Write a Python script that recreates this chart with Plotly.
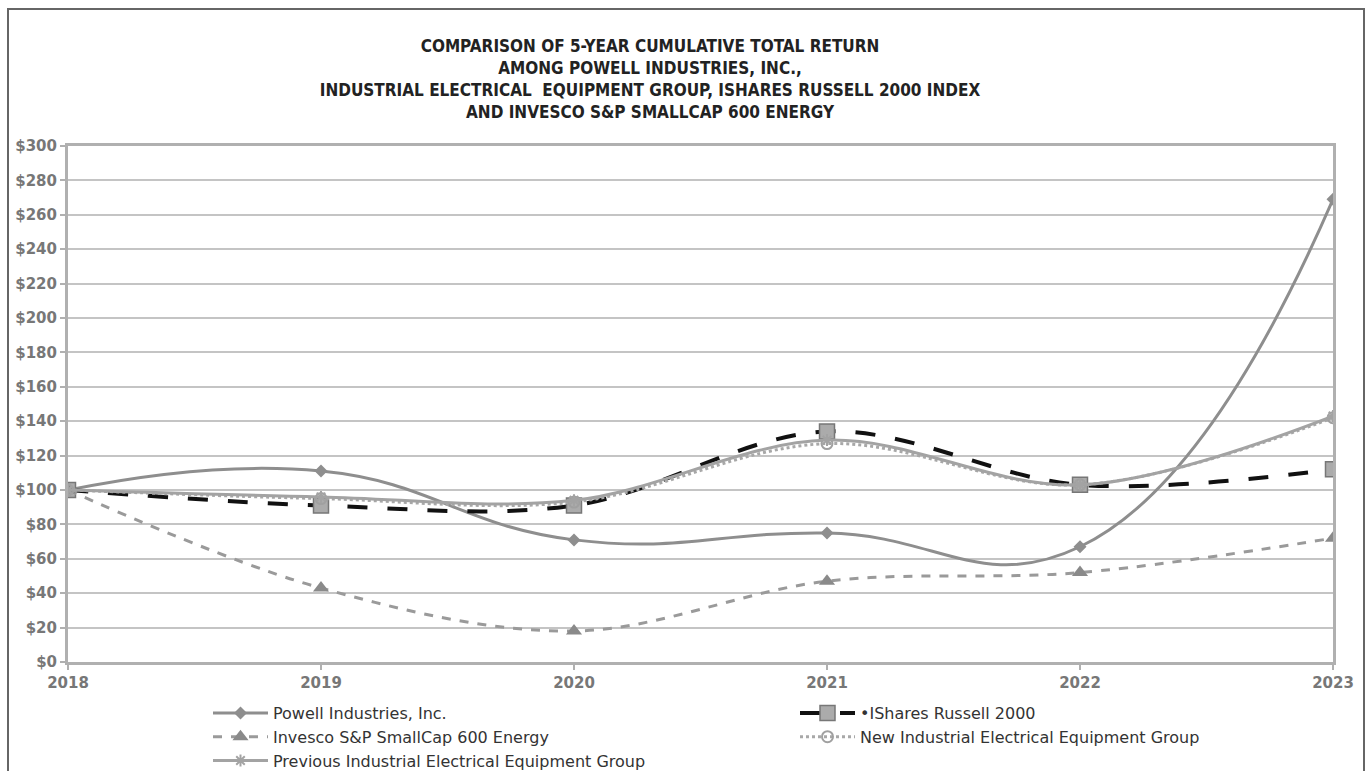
import plotly.graph_objects as go

years = [2018, 2019, 2020, 2021, 2022, 2023]
powell = [100, 111, 71, 75, 67, 269]
ishares = [100, 91, 91, 134, 103, 112]
invesco = [100, 43, 18, 47, 52, 72]
new_ieeg = [100, 95, 93, 127, 103, 142]
prev_ieeg = [100, 96, 94, 129, 103, 143]
yticks = list(range(0, 301, 20))
ytick_text = ["$" + str(v) for v in yticks]

L, R, T, B = 68, 1333, 146, 662
W, H = 1367, 771

fig = go.Figure()
fig.add_trace(go.Scatter(
    x=years, y=powell, name="Powell Industries, Inc.", mode="lines+markers",
    line=dict(color="#8e8e8e", width=3, shape="spline", smoothing=1.3),
    marker=dict(symbol="diamond", size=10, color="#8e8e8e")))
fig.add_trace(go.Scatter(
    x=years, y=ishares, name="•IShares Russell 2000", mode="lines+markers",
    line=dict(color="#111111", width=4, dash="longdash", shape="spline", smoothing=1.0),
    marker=dict(symbol="square", size=15, color="#ababab", line=dict(color="#777777", width=1.5))))
fig.add_trace(go.Scatter(
    x=years, y=invesco, name="Invesco S&P SmallCap 600 Energy", mode="lines+markers",
    line=dict(color="#9a9a9a", width=3, dash="dash", shape="spline", smoothing=1.0),
    marker=dict(symbol="triangle-up", size=14, color="#8a8a8a")))
fig.add_trace(go.Scatter(
    x=years, y=new_ieeg, name="New Industrial Electrical Equipment Group", mode="lines+markers",
    line=dict(color="#a8a8a8", width=3, dash="dot", shape="spline", smoothing=1.0),
    marker=dict(symbol="circle-open", size=11, color="#a0a0a0", line=dict(width=2))))
fig.add_trace(go.Scatter(
    x=years, y=prev_ieeg, name="Previous Industrial Electrical Equipment Group", mode="lines+markers",
    line=dict(color="#a3a3a3", width=3, shape="spline", smoothing=1.0),
    marker=dict(symbol="asterisk-open", size=10, color="#a3a3a3", line=dict(width=2, color="#a3a3a3"))))

def px_x(p):
    return (p - L) / (R - L)

def px_y(p):
    return (B - p) / (B - T)

fig.add_shape(type="rect", xref="paper", yref="paper",
              x0=px_x(8), x1=px_x(1364), y0=px_y(790), y1=px_y(9),
              line=dict(color="#666666", width=2), fillcolor="rgba(0,0,0,0)", layer="below")

title_lines = ["COMPARISON OF 5-YEAR CUMULATIVE TOTAL RETURN",
               "AMONG POWELL INDUSTRIES, INC.,",
               "INDUSTRIAL ELECTRICAL  EQUIPMENT GROUP, ISHARES RUSSELL 2000 INDEX",
               "AND INVESCO S&P SMALLCAP 600 ENERGY"]
fig.update_layout(
    width=W, height=H,
    margin=dict(l=L, r=W - R, t=T, b=H - B, autoexpand=False),
    paper_bgcolor="white", plot_bgcolor="white",
    title=dict(text="<br>".join("<b>" + t + "</b>" for t in title_lines),
               x=650 / W, xref="container", xanchor="center",
               y=1 - 52 / H, yref="container", yanchor="top",
               font=dict(family="DejaVu Sans Condensed, DejaVu Sans", size=17, color="#222222")),
    showlegend=True,
    legend=dict(orientation="h", x=px_x(208), xanchor="left", y=px_y(696), yanchor="top",
                entrywidth=517, entrywidthmode="pixels", itemwidth=55,
                font=dict(family="DejaVu Sans", size=16, color="#333333"),
                bgcolor="rgba(0,0,0,0)", traceorder="normal"),
    font=dict(family="DejaVu Sans", color="#777777"),
)
fig.update_xaxes(range=[2018, 2023], tickvals=years, ticktext=["<b>" + str(y) + "</b>" for y in years],
                 showgrid=False, showline=True, linecolor="#b0b0b0", linewidth=3,
                 mirror=True, ticks="outside", ticklen=5, tickcolor="#b0b0b0", tickwidth=2,
                 tickfont=dict(size=15, color="#777777", family="DejaVu Sans"),
                 zeroline=False)
fig.update_yaxes(range=[0, 300], tickvals=yticks, ticktext=["<b>" + t + "</b>" for t in ytick_text],
                 showgrid=True, gridcolor="#c4c4c4", gridwidth=2,
                 showline=True, linecolor="#b0b0b0", linewidth=3, mirror=True,
                 ticks="outside", ticklen=5, tickcolor="#b0b0b0", tickwidth=2,
                 tickfont=dict(size=15, color="#777777", family="DejaVu Sans"),
                 zeroline=False)

fig.write_html("out.html")
